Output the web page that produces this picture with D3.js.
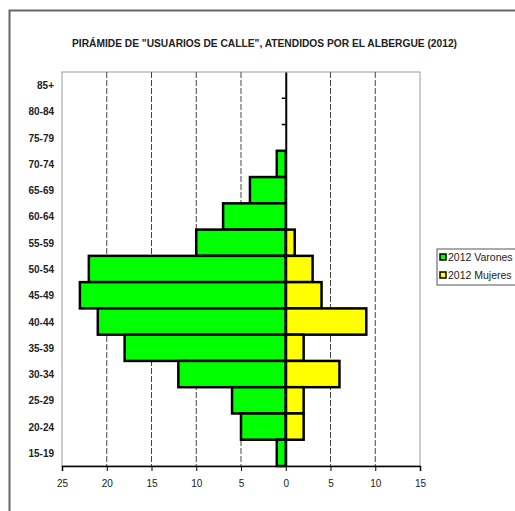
<!DOCTYPE html>
<html>
<head>
<meta charset="utf-8">
<script src="https://cdn.jsdelivr.net/npm/d3@7"></script>
<style>
  body { margin: 0; background: #fff; }
  text { font-family: "Liberation Sans Narrow", "Arial Narrow", "Liberation Sans", sans-serif; fill: #222; }
</style>
</head>
<body>
<div id="chart"></div>
<script>
const ageGroups = ["85+","80-84","75-79","70-74","65-69","60-64","55-59","50-54","45-49","40-44","35-39","30-34","25-29","20-24","15-19"];
const varones = [0,0,0,1,4,7,10,22,23,21,18,12,6,5,1];
const mujeres = [0,0,0,0,0,0,1,3,4,9,2,6,2,2,0];
const xTicks = [-25,-20,-15,-10,-5,0,5,10,15];
const seriesNames = ["2012 Varones","2012 Mujeres"];
const colours = ["#00ff00","#ffff00"];

const width = 515, height = 511;
const margin = {top: 72, left: 62, right: 95, bottom: 45};
const plotW = width - margin.left - margin.right;
const plotH = height - margin.top - margin.bottom;

const svg = d3.select("#chart").append("svg")
    .attr("width", width)
    .attr("height", height);

// outer frame
svg.append("rect")
    .attr("x", 9.5).attr("y", 10.5)
    .attr("width", 540).attr("height", 540)
    .attr("fill", "none").attr("stroke", "#666").attr("stroke-width", 2);

svg.append("text")
    .attr("x", 72).attr("y", 47)
    .attr("font-size", 11).attr("font-weight", "bold")
    .attr("textLength", 385).attr("lengthAdjust", "spacingAndGlyphs")
    .text('PIRÁMIDE DE "USUARIOS DE CALLE", ATENDIDOS POR EL ALBERGUE (2012)');

const g = svg.append("g")
    .attr("transform", `translate(${margin.left},${margin.top})`);

const x = d3.scaleLinear().domain([-25, 15]).range([0, plotW]);
const y = d3.scaleBand().domain(ageGroups).range([0, plotH]).padding(0);

// plot frame
g.append("rect")
    .attr("width", plotW).attr("height", plotH)
    .attr("fill", "none").attr("stroke", "#999").attr("stroke-width", 1);

// dashed grid
g.selectAll(".grid")
  .data(xTicks.filter(d => d !== 0 && d !== -25 && d !== 15))
  .join("line")
    .attr("x1", d => x(d)).attr("x2", d => x(d))
    .attr("y1", 0).attr("y2", plotH)
    .attr("stroke", "#444").attr("stroke-width", 1)
    .attr("stroke-dasharray", "6,2");

// bars
g.selectAll(".varon")
  .data(ageGroups)
  .join("rect")
    .attr("x", (d, i) => x(-varones[i]))
    .attr("y", d => y(d))
    .attr("width", (d, i) => x(0) - x(-varones[i]))
    .attr("height", y.bandwidth())
    .attr("fill", colours[0])
    .attr("stroke", (d, i) => varones[i] ? "#000" : "none")
    .attr("stroke-width", 2.5);

g.selectAll(".mujer")
  .data(ageGroups)
  .join("rect")
    .attr("x", x(0))
    .attr("y", d => y(d))
    .attr("width", (d, i) => x(mujeres[i]) - x(0))
    .attr("height", y.bandwidth())
    .attr("fill", colours[1])
    .attr("stroke", (d, i) => mujeres[i] ? "#000" : "none")
    .attr("stroke-width", 2.5);

// centre axis
const yAxis = g.append("g")
    .attr("transform", `translate(${x(0)},0)`)
    .call(d3.axisLeft(y).tickSize(0).tickFormat(""));
yAxis.select(".domain").attr("stroke", "#000").attr("stroke-width", 2);
g.selectAll(".ctick")
  .data(ageGroups.slice(1))
  .join("line")
    .attr("x1", x(0) - 4).attr("x2", x(0))
    .attr("y1", d => y(d)).attr("y2", d => y(d))
    .attr("stroke", "#000").attr("stroke-width", 1.5);

// category labels
g.selectAll(".cat")
  .data(ageGroups)
  .join("text")
    .attr("x", -8)
    .attr("y", d => y(d) + y.bandwidth() / 2 + 4)
    .attr("text-anchor", "end")
    .attr("font-size", 10)
    .attr("font-weight", "bold")
    .attr("fill", "#333")
    .text(d => d);

// bottom axis
const xAxis = g.append("g")
    .attr("transform", `translate(0,${plotH})`)
    .call(d3.axisBottom(x).tickValues(xTicks).tickSize(5).tickFormat(d => Math.abs(d)));
xAxis.select(".domain").attr("stroke", "#000").attr("stroke-width", 1.5);
xAxis.selectAll("line").attr("stroke", "#000");
xAxis.selectAll("text").attr("dy", "1.3em").attr("font-size", 10)
    .attr("font-family", "'Liberation Sans Narrow', 'Liberation Sans', sans-serif");

// legend
const leg = svg.append("g").attr("transform", "translate(437,249)");
leg.append("rect")
    .attr("width", 100).attr("height", 36)
    .attr("fill", "#fff").attr("stroke", "#555").attr("stroke-width", 1);
seriesNames.forEach((n, i) => {
  leg.append("rect")
      .attr("x", 3).attr("y", 5 + i * 18)
      .attr("width", 6).attr("height", 6)
      .attr("fill", colours[i]).attr("stroke", "#000").attr("stroke-width", 1.5);
  leg.append("text")
      .attr("x", 11).attr("y", 12 + i * 18)
      .attr("font-size", 10.5)
      .text(n);
});
</script>
</body>
</html>
